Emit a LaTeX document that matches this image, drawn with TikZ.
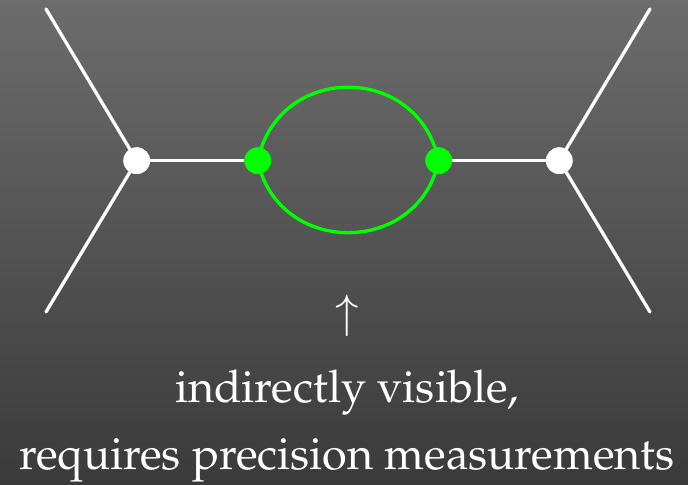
\documentclass[tikz,border=0pt]{standalone}
\usepackage[T1]{fontenc}
\usepackage{mathpazo}
\usepackage{tikz}

\definecolor{bgtop}{RGB}{108,108,108}
\definecolor{bgbot}{RGB}{58,58,58}
\definecolor{loopgreen}{RGB}{0,255,0}

\tikzset{
  leg/.style={white, line width=3.3bp, line cap=round},
  vertexw/.style={circle, fill=white, inner sep=0pt, minimum size=26.6bp},
  vertexg/.style={circle, fill=loopgreen, inner sep=0pt, minimum size=26.6bp},
  caption/.style={white, inner sep=0pt, font=\fontsize{45bp}{54bp}\selectfont}
}

\begin{document}
\begin{tikzpicture}[x=1bp, y=1bp]
  \shade[top color=bgtop, bottom color=bgbot] (0,0) rectangle (688,485);
  \coordinate (a1) at (46,476);
  \coordinate (a2) at (46,173);
  \coordinate (b1) at (650,476);
  \coordinate (b2) at (650,173);
  \node[vertexw] (wl) at (136.7,324.3) {};
  \node[vertexw] (wr) at (559.3,324.3) {};
  \node[vertexg] (gl) at (257.7,324.3) {};
  \node[vertexg] (gr) at (438.7,324.3) {};
  \draw[leg] (a1) -- (wl) -- (a2);
  \draw[leg] (b1) -- (wr) -- (b2);
  \draw[leg, line cap=butt] (wl) -- (gl);
  \draw[leg, line cap=butt] (gr) -- (wr);
  \draw[loopgreen, line width=3.3bp] (gl.center) to[bend left=78, looseness=1.42] (gr.center);
  \draw[loopgreen, line width=3.3bp] (gl.center) to[bend right=78, looseness=1.39] (gr.center);
  % redraw the vertices over the line ends
  \foreach \v/\s in {wl/vertexw,wr/vertexw,gl/vertexg,gr/vertexg}
    \node[\s] at (\v) {};
  \node[caption, anchor=south] (arrow) at (347,148) {$\uparrow$};
  \node[caption, anchor=base] (line1) at (347,82) {indirectly visible,};
  \node[caption, anchor=base] (line2) at (347,15) {requires precision measurements};
\end{tikzpicture}
\end{document}
